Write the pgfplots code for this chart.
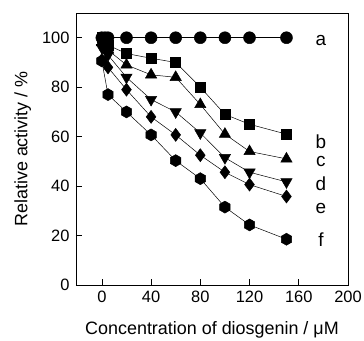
\documentclass[border=0pt]{standalone}
\usepackage{fontspec}
\setmainfont{Liberation Sans}
\usepackage{pgfplots}
\pgfplotsset{compat=1.18}
\pgfdeclareplotmark{hexa*}{%
  \pgfpathmoveto{\pgfqpointpolar{90}{\pgfplotmarksize}}%
  \pgfpathlineto{\pgfqpointpolar{150}{\pgfplotmarksize}}%
  \pgfpathlineto{\pgfqpointpolar{210}{\pgfplotmarksize}}%
  \pgfpathlineto{\pgfqpointpolar{270}{\pgfplotmarksize}}%
  \pgfpathlineto{\pgfqpointpolar{330}{\pgfplotmarksize}}%
  \pgfpathlineto{\pgfqpointpolar{30}{\pgfplotmarksize}}%
  \pgfpathclose\pgfusepathqfillstroke}
\begin{document}
\begin{tikzpicture}[font=\fontsize{16.5}{19}\selectfont]
\begin{axis}[
  scale only axis, width=272bp, height=272bp,
  xmin=-21, xmax=200, ymin=0, ymax=110,
  xtick={0,40,80,120,160,200}, ytick={0,20,40,60,80,100},
  xtick pos=left, ytick pos=left, tick align=inside,
  major tick length=6bp,
  /pgf/number format/assume math mode=true,
  ticklabel style={font=\fontsize{16.5}{19}\selectfont},
  xticklabel style={yshift=-3bp},
  yticklabel style={xshift=-3bp},
  label style={font=\fontsize{18}{21}\selectfont},
  xlabel={Concentration of diosgenin / μM},
  ylabel={Relative activity / \%},
  xlabel style={yshift=-12bp},
  ylabel style={yshift=4bp},
  axis line style={line width=0.6pt},
  every tick/.style={black, line width=0.6pt},
  clip=false,
  every axis plot/.append style={black, line width=0.5pt, mark options={fill=black, solid}},
]
\addplot[mark=*, mark size=6bp] coordinates {(0,100)(2.5,100)(5,100)(20,100)(40,100)(60,100)(80,100)(100,100)(120,100)(150,100)};
\addplot[mark=square*, mark size=5bp] coordinates {(0,100)(5,97)(20,93.6)(40,91.7)(60,90)(80,80)(100,69)(120,65)(150,61)};
\addplot[mark=triangle*, mark size=6.5bp] coordinates {(0,98)(5,95)(20,89)(40,85)(60,84)(80,73)(100,61)(120,54)(150,51)};
\addplot[mark=triangle*, mark size=6.5bp, mark options={rotate=180}] coordinates {(0,96)(5,93)(20,84)(40,75)(60,70)(80,61.5)(100,51.5)(120,45.6)(150,41.7)};
\addplot[mark=diamond*, mark size=6.5bp] coordinates {(0,91)(5,88)(20,79)(40,68)(60,60.7)(80,52.5)(100,45.6)(120,40.6)(150,35.8)};
\addplot[mark=hexa*, mark size=6bp] coordinates {(0,90.6)(5,77)(20,70)(40,60.7)(60,50.3)(80,43)(100,31.5)(120,24.3)(150,18.5)};
\begin{scope}[font=\fontsize{19}{22}\selectfont]
\node at (axis cs:178,99) {a};
\node at (axis cs:178,58) {b};
\node at (axis cs:178,50) {c};
\node at (axis cs:178,41) {d};
\node at (axis cs:178,31) {e};
\node at (axis cs:178,18.5) {f};
\end{scope}
\end{axis}
\pgfresetboundingbox
\path (current axis.south west) ++(-76bp,-56bp) rectangle ++(364bp,341bp);
\end{tikzpicture}
\end{document}
